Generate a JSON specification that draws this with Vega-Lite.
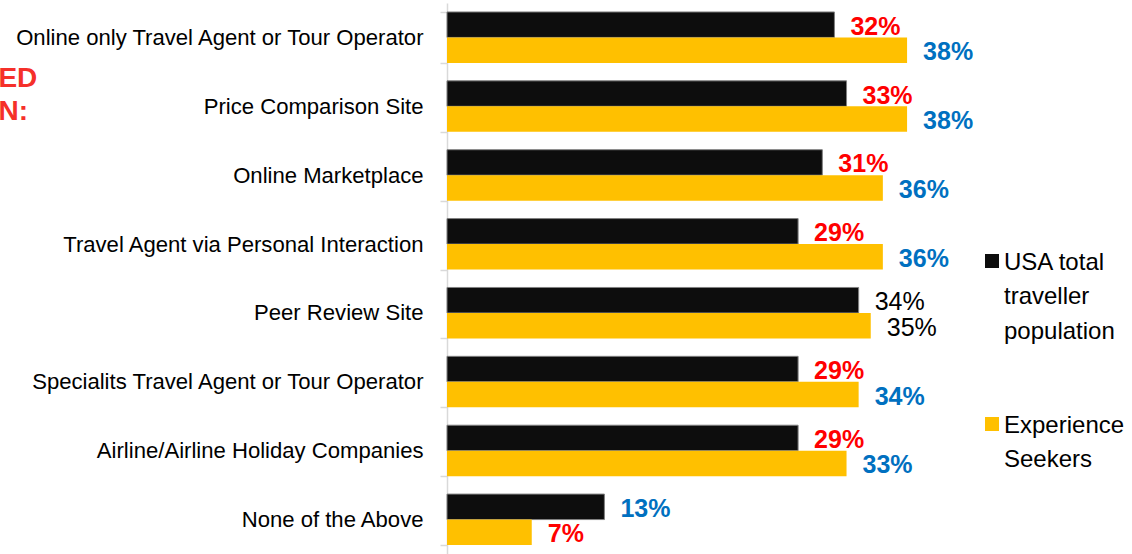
{
  "$schema": "https://vega.github.io/schema/vega-lite/v6.json",
  "width": 678,
  "height": 551,
  "autosize": "none",
  "padding": {"left": 447, "top": 3, "right": 7, "bottom": 0},
  "background": "white",
  "config": {"view": {"stroke": null}, "font": "Liberation Sans"},
  "data": {"values": [
    {"category": "Online only Travel Agent or Tour Operator", "series": "USA total traveller population", "value": 0.32, "sig": "lower"},
    {"category": "Online only Travel Agent or Tour Operator", "series": "Experience Seekers", "value": 0.38, "sig": "higher"},
    {"category": "Price Comparison Site", "series": "USA total traveller population", "value": 0.33, "sig": "lower"},
    {"category": "Price Comparison Site", "series": "Experience Seekers", "value": 0.38, "sig": "higher"},
    {"category": "Online Marketplace", "series": "USA total traveller population", "value": 0.31, "sig": "lower"},
    {"category": "Online Marketplace", "series": "Experience Seekers", "value": 0.36, "sig": "higher"},
    {"category": "Travel Agent via Personal Interaction", "series": "USA total traveller population", "value": 0.29, "sig": "lower"},
    {"category": "Travel Agent via Personal Interaction", "series": "Experience Seekers", "value": 0.36, "sig": "higher"},
    {"category": "Peer Review Site", "series": "USA total traveller population", "value": 0.34, "sig": "same"},
    {"category": "Peer Review Site", "series": "Experience Seekers", "value": 0.35, "sig": "same"},
    {"category": "Specialits Travel Agent or Tour Operator", "series": "USA total traveller population", "value": 0.29, "sig": "lower"},
    {"category": "Specialits Travel Agent or Tour Operator", "series": "Experience Seekers", "value": 0.34, "sig": "higher"},
    {"category": "Airline/Airline Holiday Companies", "series": "USA total traveller population", "value": 0.29, "sig": "lower"},
    {"category": "Airline/Airline Holiday Companies", "series": "Experience Seekers", "value": 0.33, "sig": "higher"},
    {"category": "None of the Above", "series": "USA total traveller population", "value": 0.13, "sig": "higher"},
    {"category": "None of the Above", "series": "Experience Seekers", "value": 0.07, "sig": "lower"}
  ]},
  "layer": [
    {
      "mark": {"type": "bar", "strokeWidth": 1},
      "encoding": {
        "y": {"field": "category", "type": "nominal", "sort": null,
          "scale": {"paddingInner": 0.26, "paddingOuter": 0.13},
          "axis": {"title": null, "domainColor": "#D9D9D9", "domainWidth": 1.5, "tickColor": "#D9D9D9", "tickWidth": 1.5, "tickSize": 7, "tickBand": "extent", "labelFontSize": 22.1, "labelColor": "black", "labelPadding": 17, "labelLimit": 0, "labelFont": "Liberation Sans"}},
        "yOffset": {"field": "series", "type": "nominal", "sort": ["USA total traveller population", "Experience Seekers"], "scale": {"paddingInner": 0, "paddingOuter": 0}},
        "x": {"field": "value", "type": "quantitative", "scale": {"domain": [0, 0.56], "nice": false, "zero": true}, "axis": null},
        "color": {"field": "series", "type": "nominal", "sort": ["USA total traveller population", "Experience Seekers"],
          "scale": {"domain": ["USA total traveller population", "Experience Seekers"], "range": ["#0D0D0D", "#FFC000"]},
          "legend": {"title": null, "orient": "none", "legendX": 533, "legendY": 246, "padding": 0,
            "symbolType": "square", "symbolSize": 196, "symbolStrokeWidth": 0,
            "labelFont": "Liberation Sans", "labelFontSize": 24, "labelColor": "black", "labelLimit": 0, "labelOffset": 0,
            "labelBaseline": "alphabetic", "rowPadding": 68,
            "labelExpr": "datum.label == 'USA total traveller population' ? ['USA total', 'traveller', 'population'] : ['Experience', 'Seekers']",
            "encoding": {"labels": {"lineHeight": {"value": 34.5}, "dy": {"value": 8.5}}}}},
        "stroke": {"condition": {"test": "datum.series == 'USA total traveller population'", "value": "#808080"}, "value": null}
      }
    },
    {
      "transform": [{"filter": "datum.sig != 'same'"}],
      "mark": {"type": "text", "align": "left", "baseline": "middle", "dx": 16, "dy": 2, "fontSize": 25, "fontWeight": "bold", "font": "Liberation Sans"},
      "encoding": {
        "y": {"field": "category", "type": "nominal", "sort": null},
        "yOffset": {"field": "series", "type": "nominal", "sort": ["USA total traveller population", "Experience Seekers"]},
        "x": {"field": "value", "type": "quantitative"},
        "text": {"field": "value", "type": "quantitative", "format": ".0%"},
        "color": {"condition": {"test": "datum.sig == 'higher'", "value": "#0070C0"}, "value": "#FF0000"}
      }
    },
    {
      "transform": [{"filter": "datum.sig == 'same'"}],
      "mark": {"type": "text", "align": "left", "baseline": "middle", "dx": 16, "dy": 2, "fontSize": 25, "fontWeight": "normal", "font": "Liberation Sans", "color": "black"},
      "encoding": {
        "y": {"field": "category", "type": "nominal", "sort": null},
        "yOffset": {"field": "series", "type": "nominal", "sort": ["USA total traveller population", "Experience Seekers"]},
        "x": {"field": "value", "type": "quantitative"},
        "text": {"field": "value", "type": "quantitative", "format": ".0%"}
      }
    },
    {
      "data": {"values": [{"note": "ED\nN:"}]},
      "mark": {"type": "text", "align": "left", "baseline": "alphabetic", "lineBreak": "\n", "lineHeight": 33, "dy": -19, "fontSize": 28, "fontWeight": "bold", "font": "Liberation Sans", "color": "#F5302A"},
      "encoding": {
        "x": {"datum": -0.3705, "type": "quantitative"},
        "y": {"datum": "Price Comparison Site", "type": "nominal"},
        "text": {"field": "note"}
      }
    }
  ]
}
